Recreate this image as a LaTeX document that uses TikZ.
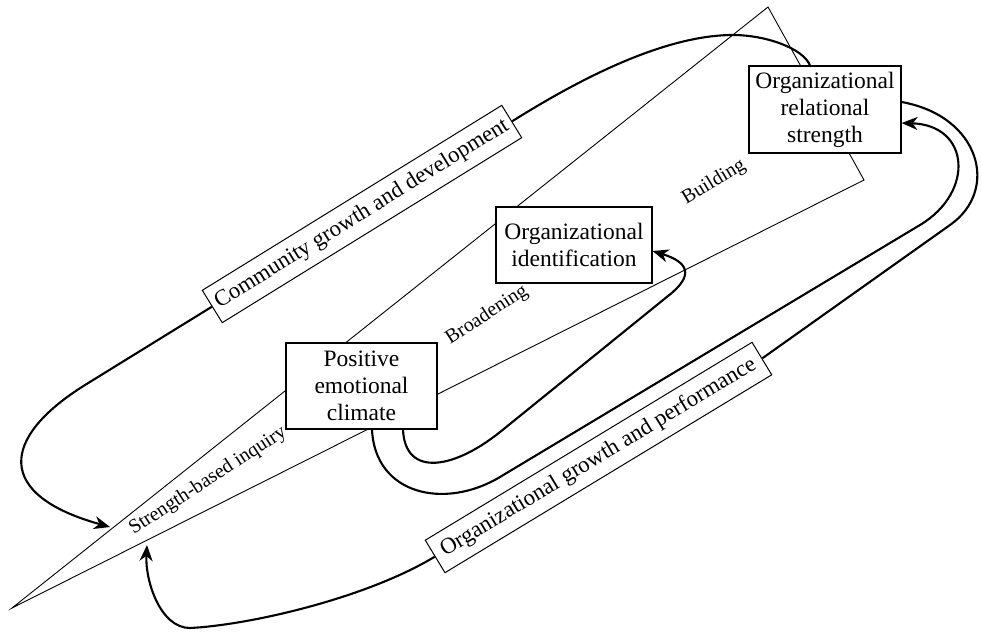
\documentclass[tikz,border=0pt]{standalone}
\usepackage{fontspec}
\setmainfont{Liberation Serif}
\usetikzlibrary{arrows.meta}
\begin{document}
\begin{tikzpicture}[x=1pt,y=-1pt,
  box/.style={draw, line width=1.1pt, fill=white, align=center, inner sep=0pt, font=\fontsize{23.5}{27}\selectfont},
  lbox/.style={draw, line width=1pt, fill=white, inner sep=0pt, minimum height=38pt, font=\fontsize{22.8}{26}\selectfont},
  small/.style={inner sep=0pt, font=\fontsize{20}{23}\selectfont},
  flow/.style={line width=2.1pt, -{Stealth[length=16pt,width=13pt,inset=5pt]}},
  flowplain/.style={line width=2.1pt},
  edgeline/.style={line width=0.9pt}]
\useasboundingbox (0,0) rectangle (982,632);
% triangle
\coordinate (A) at (12,608);
\coordinate (T) at (768,7);
\coordinate (R) at (864,180);
\draw[edgeline, line join=miter] (A) -- (T) -- (R) -- cycle;
% small labels
\node[small, rotate=33] (sbi) at (208,481) {Strength-based inquiry};
\node[small, rotate=33] (brd) at (487,315) {Broadening};
\node[small, rotate=31] (bld) at (714,182) {Building};
% boxes
\node[box, minimum width=152pt, minimum height=87pt] (rel) at (825,109.5) {Organizational\\relational\\strength};
\node[box, minimum width=156pt, minimum height=76pt] (ident) at (574,245) {Organizational\\identification};
\node[box, minimum width=151pt, minimum height=86pt] (pos) at (361.5,386) {Positive\\emotional\\climate};
\node[lbox, minimum width=352pt, rotate=31.7] (cgd) at (362,214) {Community growth and development};
\node[lbox, minimum width=382pt, rotate=31.2] (ogp) at (598.5,457.5) {Organizational growth and performance};
% arrow targets
\coordinate (sbiTip) at (110,527);
\coordinate (ogpTip) at (147,545);
% community growth loop
\draw[flowplain] ([xshift=-15pt]rel.north) .. controls (803,48) and (765,35) .. (733,35)
  .. controls (660,35) and (570,85) .. (cgd.east);
\draw[flow] (cgd.west) -- (85,385) .. controls (0,438) and (-5,495) .. (sbiTip);
% organizational growth loop
\draw[flowplain] ([yshift=7.5pt]rel.east) .. controls (980,116) and (1000,190) .. (950,225) -- (ogp.east);
\draw[flow] (ogp.west) .. controls (366.6,598) and (250,625) .. (190,628)
  .. controls (160,628) and (145,580) .. (ogpTip);
% outer loop to relational strength
\draw[flow] ([xshift=10.5pt]pos.south) .. controls (375,495) and (445,510) .. (500,477)
  -- (920,225) .. controls (975,192) and (970,125) .. ([yshift=-13.5pt]rel.east);
% inner loop to identification
\draw[flow] ([xshift=41.5pt]pos.south) .. controls (405,478) and (455,470) .. (505,428)
  -- (668,296) .. controls (695,275) and (688,262) .. ([yshift=-6pt]ident.east);
\end{tikzpicture}
\end{document}
